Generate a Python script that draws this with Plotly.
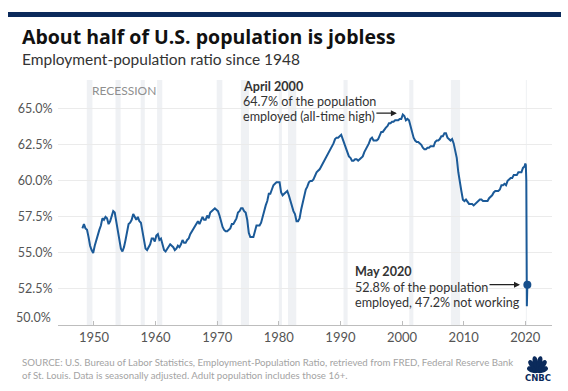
import math
import pandas as pd
import plotly.graph_objects as go

# ---------------- data (quarterly) ----------------
emp_1948_1949 = [56.7, 57.0, 56.7, 56.6, 56.1, 55.5, 55.2, 55.0]
emp_1950s = [55.5, 55.9, 56.2, 56.6, 56.9, 57.4, 57.3, 57.5, 57.4, 57.0,
             57.2, 57.6, 57.9, 57.8, 57.2, 56.8, 56.0, 55.3, 55.1, 55.4,
             55.9, 56.5, 57.0, 57.1, 57.3, 57.7, 57.5, 57.3, 57.5, 57.2,
             57.1, 56.5, 55.9, 55.3, 55.2, 55.4, 55.6, 56.0, 56.0, 55.8]
emp_1960s = [56.2, 56.3, 55.9, 56.0, 55.6, 55.2, 55.1, 55.3, 55.4, 55.6,
             55.5, 55.4, 55.2, 55.3, 55.5, 55.4, 55.6, 55.9, 55.7, 55.7,
             55.9, 56.0, 56.3, 56.5, 56.6, 56.8, 57.0, 57.2, 57.0, 57.2,
             57.5, 57.3, 57.3, 57.6, 57.4, 57.8, 57.9, 58.0, 58.1, 58.0]
emp_1970s = [57.9, 57.6, 57.1, 56.8, 56.6, 56.5, 56.5, 56.6, 56.7, 57.0,
             57.0, 57.2, 57.4, 57.8, 57.9, 58.1, 58.1, 57.9, 57.8, 57.3,
             56.4, 56.1, 56.1, 56.1, 56.5, 56.9, 56.9, 56.9, 57.1, 57.6,
             57.9, 58.3, 58.6, 59.1, 59.1, 59.4, 59.7, 59.8, 59.9, 59.9]
emp_1980s = [59.9, 59.2, 59.0, 59.1, 59.2, 59.3, 59.0, 58.6, 58.3, 57.9,
             57.7, 57.2, 57.2, 57.4, 58.0, 58.5, 58.9, 59.4, 59.6, 59.9,
             60.0, 60.0, 60.1, 60.4, 60.6, 60.7, 60.8, 61.0, 61.2, 61.4,
             61.6, 61.7, 61.9, 62.2, 62.4, 62.6, 62.9, 63.0, 63.0, 63.1]
emp_1990s = [63.2, 62.9, 62.6, 62.2, 61.9, 61.7, 61.6, 61.4, 61.4, 61.5,
             61.5, 61.4, 61.5, 61.6, 61.7, 62.0, 62.2, 62.3, 62.6, 62.9,
             63.0, 62.8, 62.8, 62.8, 62.9, 63.2, 63.4, 63.4, 63.6, 63.7,
             63.8, 64.0, 64.0, 64.1, 64.1, 64.2, 64.2, 64.2, 64.3, 64.3]
emp_2000s = [64.6, 64.5, 64.2, 64.3, 64.2, 63.8, 63.5, 63.0, 62.8, 62.7,
             62.7, 62.6, 62.5, 62.3, 62.2, 62.2, 62.3, 62.3, 62.4, 62.4,
             62.4, 62.7, 62.8, 62.8, 62.9, 63.1, 63.1, 63.3, 63.3, 63.0,
             62.9, 62.8, 62.9, 62.6, 62.1, 61.6, 60.6, 59.8, 59.3, 58.7]
emp_2010s = [58.6, 58.7, 58.5, 58.4, 58.4, 58.4, 58.3, 58.4, 58.5, 58.6,
             58.7, 58.7, 58.6, 58.6, 58.6, 58.6, 58.8, 58.9, 59.0, 59.2,
             59.3, 59.3, 59.3, 59.4, 59.7, 59.7, 59.8, 59.7, 60.0, 60.1,
             60.2, 60.2, 60.4, 60.4, 60.4, 60.6, 60.6, 60.6, 60.9, 61.0]
months_2020 = ["2020-01-01", "2020-02-01", "2020-03-01", "2020-04-01", "2020-05-01"]
emp_2020 = [61.2, 61.1, 60.0, 51.3, 52.8]

peak_value = 64.7
latest_date, latest_value = "2020-05-01", 52.8

recessions = [("1948-11-01", "1949-10-01"), ("1953-07-01", "1954-05-01"),
              ("1957-08-01", "1958-04-01"), ("1960-04-01", "1961-02-01"),
              ("1969-12-01", "1970-11-01"), ("1973-11-01", "1975-03-01"),
              ("1980-01-01", "1980-07-01"), ("1981-07-01", "1982-11-01"),
              ("1990-07-01", "1991-03-01"), ("2001-03-01", "2001-11-01"),
              ("2007-12-01", "2009-06-01"), ("2020-02-01", "2020-04-01")]

y_ticks = [52.5, 55.0, 57.5, 60.0, 62.5, 65.0]
y_tick_text = ["52.5%", "55.0%", "57.5%", "60.0%", "62.5%", "65.0%"]
x_tick_years = [1950, 1960, 1970, 1980, 1990, 2000, 2010, 2020]

april_lines = ["<b>April 2000</b>", "64.7% of the population", "employed (all-time high)"]
may_lines = ["<b>May 2020</b>", "52.8% of the population", "employed, 47.2% not working"]

# ---------------- build series ----------------
quarterly = (emp_1948_1949 + emp_1950s + emp_1960s + emp_1970s +
             emp_1980s + emp_1990s + emp_2000s + emp_2010s)
q_dates = pd.date_range("1948-01-01", periods=len(quarterly), freq="QS") + pd.Timedelta(days=45)
dates = list(q_dates) + list(pd.to_datetime(months_2020))
values = quarterly + emp_2020

FONT = "Lato"
LINE = "#1b5a98"
NAVY = "#0b2a5b"
TXT = "#333333"

fig = go.Figure()
fig.add_trace(go.Scatter(x=dates, y=values, mode="lines",
                         line=dict(color=LINE, width=2), hoverinfo="skip"))
fig.add_trace(go.Scatter(x=[latest_date], y=[latest_value], mode="markers",
                         marker=dict(color="#174f8c", size=8), hoverinfo="skip"))

for a, b in recessions:
    fig.add_vrect(x0=a, x1=b, fillcolor="#eff1f4", line_width=0, layer="below")

# top navy bar
fig.add_shape(type="rect", xref="paper", yref="paper", xsizemode="pixel", ysizemode="pixel",
              xanchor=0, yanchor=1, x0=-50, x1=503, y0=63, y1=68,
              fillcolor=NAVY, line_width=0)

ann = []
ann.append(dict(xref="paper", yref="paper", x=0, y=1, xshift=-38, yshift=44,
                xanchor="left", yanchor="middle", showarrow=False,
                text="<b>About half of U.S. population is jobless</b>",
                font=dict(family="Open Sans", size=19.5, color="#111111")))
ann.append(dict(xref="paper", yref="paper", x=0, y=1, xshift=-38, yshift=21,
                xanchor="left", yanchor="middle", showarrow=False,
                text="Employment-population ratio since 1948",
                font=dict(family=FONT, size=15.5, color=TXT)))
ann.append(dict(xref="x", yref="y", x="1949-05-01", y=66.24, xanchor="left", yanchor="middle",
                showarrow=False, text="RECESSION",
                font=dict(family=FONT, size=12, color="#8f8f8f")))
ann.append(dict(xref="paper", yref="y", x=0, y=50, xshift=-5, yshift=8,
                xanchor="right", yanchor="middle", showarrow=False, text="50.0%",
                font=dict(family=FONT, size=12.5, color="#555555")))
for txt, yv in zip(april_lines, [66.58, 65.54, 64.45]):
    ann.append(dict(xref="x", yref="y", x="1973-10-20", y=yv, xanchor="left", yanchor="middle",
                    showarrow=False, text=txt, font=dict(family=FONT, size=12.6, color=TXT)))
ann.append(dict(xref="x", yref="y", x="1999-03-01", y=peak_value, ax=-22, ay=0,
                showarrow=True, arrowhead=2, arrowsize=1, arrowwidth=1.2,
                arrowcolor="#222222", text=""))
for txt, yv in zip(may_lines, [53.70, 52.61, 51.59]):
    ann.append(dict(xref="x", yref="y", x="1992-01-10", y=yv, xanchor="left", yanchor="middle",
                    showarrow=False, text=txt, font=dict(family=FONT, size=12.6, color=TXT)))
ann.append(dict(xref="x", yref="y", x="2019-02-20", y=latest_value, ax=-32, ay=0,
                showarrow=True, arrowhead=2, arrowsize=1, arrowwidth=1.2,
                arrowcolor="#222222", text=""))
ann.append(dict(xref="paper", yref="paper", x=0, y=0, xshift=-38, yshift=-43,
                xanchor="left", yanchor="middle", showarrow=False, align="left",
                text="SOURCE: U.S. Bureau of Labor Statistics, Employment-Population Ratio, retrieved from FRED, Federal Reserve Bank<br>of St. Louis. Data is seasonally adjusted. Adult population includes those 16+.",
                font=dict(family=FONT, size=9.7, color="#a3a3a3")))
ann.append(dict(xref="paper", yref="paper", x=1, y=0, xshift=-14.5, yshift=-52.5,
                xanchor="center", yanchor="middle", showarrow=False, text="<b>CNBC</b>",
                font=dict(family="DejaVu Sans", size=8.5, color=NAVY)))

# peacock feathers (logo decoration), base point relative to the plot's bottom-right corner
BX, BY = -14.5, -48.0
w = 2.9
for ang, L in zip([152, 124, 101, 79, 56, 28], [11.5, 15.0, 17.0, 17.0, 15.0, 11.5]):
    t = math.radians(ang)
    dx, dy = math.cos(t), math.sin(t)
    nx, ny = -dy, dx
    p = lambda s, k: f"{BX + s*L*dx + k*w*nx:.2f},{BY + s*L*dy + k*w*ny:.2f}"
    path = (f"M {BX},{BY} C {p(0.45, 1.3)} {p(1.05, 1.1)} {p(1.0, 0)} "
            f"C {p(1.05, -1.1)} {p(0.45, -1.3)} {BX},{BY} Z")
    fig.add_shape(type="path", xref="paper", yref="paper", xsizemode="pixel", ysizemode="pixel",
                  xanchor=1, yanchor=0, path=path, fillcolor=NAVY, line_width=0)

fig.update_layout(
    width=568, height=391,
    margin=dict(l=58, r=16, t=80, b=66),
    paper_bgcolor="white", plot_bgcolor="white",
    showlegend=False,
    font=dict(family=FONT),
    annotations=ann,
    xaxis=dict(type="date", range=["1944-03-01", "2024-05-01"],
               tickvals=[f"{y}-01-01" for y in x_tick_years],
               ticktext=[str(y) for y in x_tick_years],
               showgrid=False, zeroline=False, showline=True, linecolor="#bdbdbd", linewidth=1,
               ticks="inside", ticklen=4, tickcolor="#bdbdbd",
               tickfont=dict(family=FONT, size=13, color="#555555")),
    yaxis=dict(range=[50, 67], tickvals=y_ticks, ticktext=y_tick_text,
               showgrid=True, gridcolor="#ebebeb", gridwidth=1, zeroline=False, showline=False,
               ticks="outside", ticklen=2, tickcolor="rgba(0,0,0,0)",
               tickfont=dict(family=FONT, size=12.5, color="#555555")),
)

fig.write_html("out.html", config={"displayModeBar": False},
               post_script="document.body.style.margin='0';document.body.style.overflow='hidden';")
